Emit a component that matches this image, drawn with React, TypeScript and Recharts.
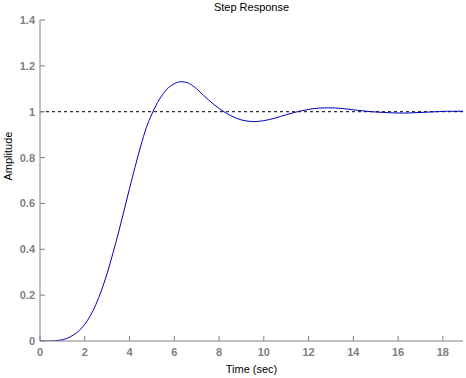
import React from 'react';
import { LineChart, Line, XAxis, YAxis, ReferenceLine } from 'recharts';

const times = [0, 0.5, 0.9, 1.2, 1.5, 1.75, 2.0, 2.25, 2.5, 2.75, 3.0, 3.25, 3.5, 3.75, 4.0, 4.25, 4.5, 4.75, 5.0, 5.25, 5.5, 5.75, 6.0, 6.3, 6.6, 6.9, 7.3, 7.75, 8.27, 8.79, 9.2, 9.6, 10.0, 10.5, 11.0, 11.5, 12.0, 12.5, 12.9, 13.5, 14.2, 14.8, 15.5, 16.2, 16.8, 17.5, 18.2, 18.9];
const amplitudes = [0, 0, 0.004, 0.011, 0.027, 0.045, 0.073, 0.11, 0.16, 0.222, 0.295, 0.38, 0.47, 0.567, 0.665, 0.76, 0.85, 0.93, 0.99, 1.04, 1.078, 1.106, 1.122, 1.131, 1.126, 1.108, 1.072, 1.033, 0.997, 0.971, 0.96, 0.957, 0.961, 0.972, 0.987, 1.0, 1.01, 1.016, 1.017, 1.014, 1.006, 1.0, 0.996, 0.994, 0.996, 0.999, 1.002, 1.002];
const xTicks = [0, 2, 4, 6, 8, 10, 12, 14, 16, 18];
const yTicks = [0, 0.2, 0.4, 0.6, 0.8, 1, 1.2, 1.4];
const steadyState = 1;
const xDomain = [0, 18.9];
const yDomain = [0, 1.4];

const data = times.map((t, i) => ({ t, amp: amplitudes[i] }));

const GRAY = '#808080';
const FONT = '"Liberation Sans", Arial, sans-serif';

const BottomTick = (props: any) => {
  const { x, y, payload } = props;
  return (
    <g>
      <line x1={x} x2={x} y1={y} y2={y - 5} stroke={GRAY} />
      <text x={x} y={y + 15} textAnchor="middle" fill={GRAY} fontSize={11} fontWeight="bold" fontFamily={FONT}>
        {String(payload.value)}
      </text>
    </g>
  );
};

const TopTick = (props: any) => {
  const { x, y } = props;
  return <line x1={x} x2={x} y1={y} y2={y + 5} stroke={GRAY} />;
};

const LeftTick = (props: any) => {
  const { x, y, payload } = props;
  return (
    <g>
      <line x1={x} x2={x + 5} y1={y} y2={y} stroke={GRAY} />
      <text x={x - 5} y={y + 4} textAnchor="end" fill={GRAY} fontSize={11} fontWeight="bold" fontFamily={FONT}>
        {String(payload.value)}
      </text>
    </g>
  );
};

const RightTick = (props: any) => {
  const { x, y } = props;
  return <line x1={x} x2={x - 5} y1={y} y2={y} stroke={GRAY} />;
};

export default function App() {
  return (
    <div style={{ position: 'absolute', left: 0, top: 0, width: 466, height: 378, background: '#fff' }}>
      <div
        style={{
          position: 'absolute',
          left: 40,
          width: 423,
          top: 0,
          textAlign: 'center',
          fontFamily: FONT,
          fontSize: 11,
          color: '#000',
          lineHeight: '14px',
        }}
      >
        Step Response
      </div>
      <LineChart width={466} height={378} data={data} margin={{ top: 20, right: 3, left: 0, bottom: 7 }}>
        <XAxis
          dataKey="t"
          type="number"
          domain={xDomain}
          ticks={xTicks}
          allowDataOverflow
          xAxisId="main"
          height={30}
          tickSize={0}
          tickMargin={0}
          tickLine={false}
          axisLine={{ stroke: GRAY }}
          tick={<BottomTick />}
          interval={0}
          label={{ value: 'Time (sec)', position: 'insideBottom', offset: 0, fill: '#000', fontSize: 11, fontFamily: FONT, dy: 2 }}
        />
        <XAxis
          dataKey="t"
          type="number"
          domain={xDomain}
          ticks={xTicks}
          allowDataOverflow
          xAxisId="top"
          orientation="top"
          height={0}
          tickSize={0}
          tickMargin={0}
          tickLine={false}
          axisLine={{ stroke: GRAY }}
          tick={<TopTick />}
          interval={0}
        />
        <YAxis
          type="number"
          domain={yDomain}
          ticks={yTicks}
          allowDataOverflow
          yAxisId="main"
          width={40}
          tickSize={0}
          tickMargin={0}
          tickLine={false}
          axisLine={{ stroke: GRAY }}
          tick={<LeftTick />}
          interval={0}
          label={{ value: 'Amplitude', angle: -90, position: 'insideLeft', offset: 0, fill: '#000', fontSize: 11, fontFamily: FONT, dx: 8 }}
        />
        <YAxis
          type="number"
          domain={yDomain}
          ticks={yTicks}
          allowDataOverflow
          yAxisId="right"
          orientation="right"
          width={0}
          tickSize={0}
          tickMargin={0}
          tickLine={false}
          axisLine={{ stroke: GRAY }}
          tick={<RightTick />}
          interval={0}
        />
        <ReferenceLine xAxisId="main" yAxisId="main" y={steadyState} stroke="#000" strokeDasharray="3 3" />
        <Line
          xAxisId="main"
          yAxisId="main"
          dataKey="amp"
          type="monotone"
          stroke="#0000c0"
          strokeWidth={1}
          dot={false}
          isAnimationActive={false}
        />
      </LineChart>
    </div>
  );
}
